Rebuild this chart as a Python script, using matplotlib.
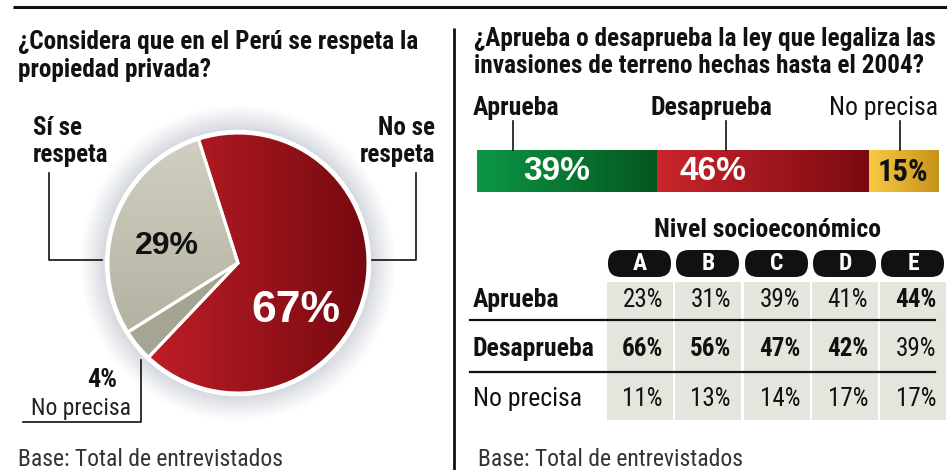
import numpy as np
import matplotlib
matplotlib.use("Agg")
import matplotlib.pyplot as plt
from matplotlib.colors import LinearSegmentedColormap, to_rgb
from matplotlib.patches import FancyBboxPatch, Rectangle, Circle

# ---------------- data ----------------
pie_labels = ["No se respeta", "No precisa", "Sí se respeta"]
pie_values = [67, 4, 29]

bar_labels = ["Aprueba", "Desaprueba", "No precisa"]
bar_values = [39, 46, 15]

niveles = ["A", "B", "C", "D", "E"]
aprueba_nse = [23, 31, 39, 41, 44]
desaprueba_nse = [66, 56, 47, 42, 39]
noprecisa_nse = [11, 13, 14, 17, 17]
row_labels = ["Aprueba", "Desaprueba", "No precisa"]

title_left = ["¿Considera que en el Perú se respeta la", "propiedad privada?"]
title_right = ["¿Aprueba o desaprueba la ley que legaliza las",
               "invasiones de terreno hechas hasta el 2004?"]
base_text = "Base: Total de entrevistados"
subtitle_nse = "Nivel socioeconómico"

# ---------------- style ----------------
COND = ["Roboto Condensed", "DejaVu Sans"]
WIDE = ["Liberation Sans", "DejaVu Sans"]
INK = "#111111"
W, H = 947, 470
fig = plt.figure(figsize=(W / 100, H / 100), dpi=100)
fig.patch.set_facecolor("white")


def grad_fill(ax, patch, c1, c2, extent, vertical=False, z=3):
    cmap = LinearSegmentedColormap.from_list("g", [c1, c2])
    v = np.linspace(0, 1, 256)
    arr = v.reshape(-1, 1) if vertical else v.reshape(1, -1)
    im = ax.imshow(arr, cmap=cmap, extent=extent, aspect="auto",
                   origin="lower", zorder=z, interpolation="bilinear")
    im.set_clip_path(patch)
    patch.set_facecolor("none")
    patch.set_zorder(z + 1)
    return im


# ---------------- pie ----------------
cx, cy, R, RH = 238, 263, 130, 160
pax = fig.add_axes([(cx - RH) / W, (H - cy - RH) / H, 2 * RH / W, 2 * RH / H])
pax.set_axis_off()
lim = RH / R
inner = np.array(to_rgb("#cbcfd6"))
outer = np.array(to_rgb("#ffffff"))
for r in np.linspace(1.22, 1.0, 40):
    t = (r - 1.0) / 0.22
    k = t ** 0.8
    col = inner * (1 - k) + outer * k
    pax.add_patch(Circle((0, 0), r, color=np.clip(col, 0, 1), zorder=1, lw=0))
pax.add_patch(Circle((0, 0), 1.025, color="white", zorder=1.5, lw=0))

wedges, _ = pax.pie(pie_values, startangle=107.7, counterclock=False,
                    radius=1.0, wedgeprops=dict(edgecolor="white", linewidth=2.2))
grad_fill(pax, wedges[0], "#cc222c", "#760910", [-1, 1, -1, 1])
grad_fill(pax, wedges[1], "#a8a796", "#a09f8e", [-1, 1, -1, 1])
grad_fill(pax, wedges[2], "#aaa998", "#d2d0c2", [-1, 1, -1, 1], vertical=True)
pax.set_xlim(-lim, lim)
pax.set_ylim(-lim, lim)
pax.set_aspect("equal")

# ---------------- bar ----------------
bx0, bx1, by0, by1 = 477, 938, 150, 192
bax = fig.add_axes([bx0 / W, (H - by1) / H, (bx1 - bx0) / W, (by1 - by0) / H])
bax.set_axis_off()
lefts = np.concatenate([[0], np.cumsum(bar_values)[:-1]])
bars = bax.barh([0], bar_values, left=lefts, height=1.0)
bar_grads = [("#0c9646", "#06561f"), ("#cb252d", "#7a0a10"), ("#f8ca44", "#c7921b")]
for p, (c1, c2) in zip(bars.patches, bar_grads):
    x, w = p.get_x(), p.get_width()
    grad_fill(bax, p, c1, c2, [x, x + w, -0.5, 0.5])
    p.set_edgecolor("none")
bax.set_xlim(0, sum(bar_values))
bax.set_ylim(-0.5, 0.5)

# ---------------- overlay (pixel coordinates) ----------------
ax = fig.add_axes([0, 0, 1, 1], zorder=10)
ax.set_xlim(0, W)
ax.set_ylim(H, 0)
ax.set_axis_off()
ax.patch.set_alpha(0)

# frame lines
ax.plot([13, W], [7, 7], color=INK, lw=2.2, solid_capstyle="butt")
ax.plot([454, 454], [28, H], color=INK, lw=2.0, solid_capstyle="butt")

# titles
for i, line in enumerate(title_left):
    ax.text(18, 49 + 28 * i, line, fontsize=18.2, fontweight="bold",
            family=COND, va="baseline", ha="left", color=INK)
for i, line in enumerate(title_right):
    ax.text(474, 46 + 27 * i, line, fontsize=18.2, fontweight="bold",
            family=COND, va="baseline", ha="left", color=INK)

# pie labels
ax.text(33, 135, "Sí se", fontsize=18, fontweight="bold", family=COND, va="baseline", color=INK)
ax.text(33, 162, "respeta", fontsize=18, fontweight="bold", family=COND, va="baseline", color=INK)
ax.text(435, 135, "No se", fontsize=18, fontweight="bold", family=COND, va="baseline", ha="right", color=INK)
ax.text(435, 162, "respeta", fontsize=18, fontweight="bold", family=COND, va="baseline", ha="right", color=INK)
ax.plot([49, 49, 102], [173, 260, 260], color=INK, lw=1.2)
ax.plot([416, 416, 372], [173, 260, 260], color=INK, lw=1.2)

ax.text(117, 387, f"{pie_values[1]}%", fontsize=19, fontweight="bold", family=COND,
        va="baseline", ha="right", color=INK)
ax.text(131, 415, pie_labels[1], fontsize=17, family=COND, va="baseline", ha="right",
        color="#222222")
ax.plot([141, 141, 23], [360, 422, 422], color=INK, lw=1.2)

ax.text(167, 246, f"{pie_values[2]}%", fontsize=23, fontweight="bold", family=WIDE,
        va="center", ha="center", color=INK)
ax.text(296, 311, f"{pie_values[0]}%", fontsize=32, fontweight="bold", family=WIDE,
        va="center", ha="center", color="white")

# bar labels
tot = sum(bar_values)
bar_lbl_x = [473, 650, 938]
bar_lbl_ha = ["left", "left", "right"]
bar_lbl_w = ["bold", "bold", "normal"]
for lbl, lx, ha, wt in zip(bar_labels, bar_lbl_x, bar_lbl_ha, bar_lbl_w):
    ax.text(lx, 115, lbl, fontsize=18.5, fontweight=wt, family=COND,
            va="baseline", ha=ha, color=INK)
for lx in [513, 726, 900]:
    ax.plot([lx, lx], [121, 150], color=INK, lw=1.2)

seg_left = [bx0 + (bx1 - bx0) * l / tot for l in lefts]
seg_w = [(bx1 - bx0) * v / tot for v in bar_values]
ax.text(seg_left[0] + 80, 172, f"{bar_values[0]}%", fontsize=24, fontweight="bold",
        family=WIDE, va="center", ha="center", color="white")
ax.text(seg_left[1] + 56, 172, f"{bar_values[1]}%", fontsize=24, fontweight="bold",
        family=WIDE, va="center", ha="center", color="white")
ax.text(seg_left[2] + seg_w[2] / 2, 172, f"{bar_values[2]}%", fontsize=22,
        fontweight="bold", family=COND, va="center", ha="center", color=INK)

# nivel socioeconómico
ax.text(767, 237, subtitle_nse, fontsize=18.5, fontweight="bold", family=COND,
        va="baseline", ha="center", color=INK)
col_left = [607, 675, 744, 812, 880]
col_w = 66
for cl, lv in zip(col_left, niveles):
    ax.add_patch(FancyBboxPatch((cl + 1, 250), col_w - 3, 27,
                                boxstyle="round,pad=0,rounding_size=13",
                                fc=INK, ec="none"))
    ax.text(cl + col_w / 2, 264, lv, fontsize=17, fontweight="bold", family=COND,
            color="white", ha="center", va="center")
    ax.add_patch(Rectangle((cl, 282), col_w, 138, fc="#e6e5dd", ec="none", zorder=0.5))

# table
rows = [aprueba_nse, desaprueba_nse, noprecisa_nse]
row_base = [307, 356, 406]
row_wt = ["bold", "bold", "normal"]
for r, (vals, yb, lbl, wt) in enumerate(zip(rows, row_base, row_labels, row_wt)):
    ax.text(473, yb, lbl, fontsize=18.5, fontweight=wt, family=COND, va="baseline",
            ha="left", color=INK)
    for j, (cl, v) in enumerate(zip(col_left, vals)):
        bold = r < 2 and v == max(aprueba_nse[j], desaprueba_nse[j])
        ax.text(cl + col_w - 10, yb, f"{v}%", fontsize=18,
                fontweight="bold" if bold else "normal", family=COND,
                va="baseline", ha="right", color=INK)
for yl in [320, 372]:
    ax.plot([470, 935], [yl, yl], color=INK, lw=1.6)

# base
ax.text(18, 466, base_text, fontsize=17, family=COND, va="baseline", ha="left",
        color="#333333")
ax.text(478, 466, base_text, fontsize=17, family=COND, va="baseline", ha="left",
        color="#333333")

fig.savefig("out.png", dpi=100, facecolor="white")
